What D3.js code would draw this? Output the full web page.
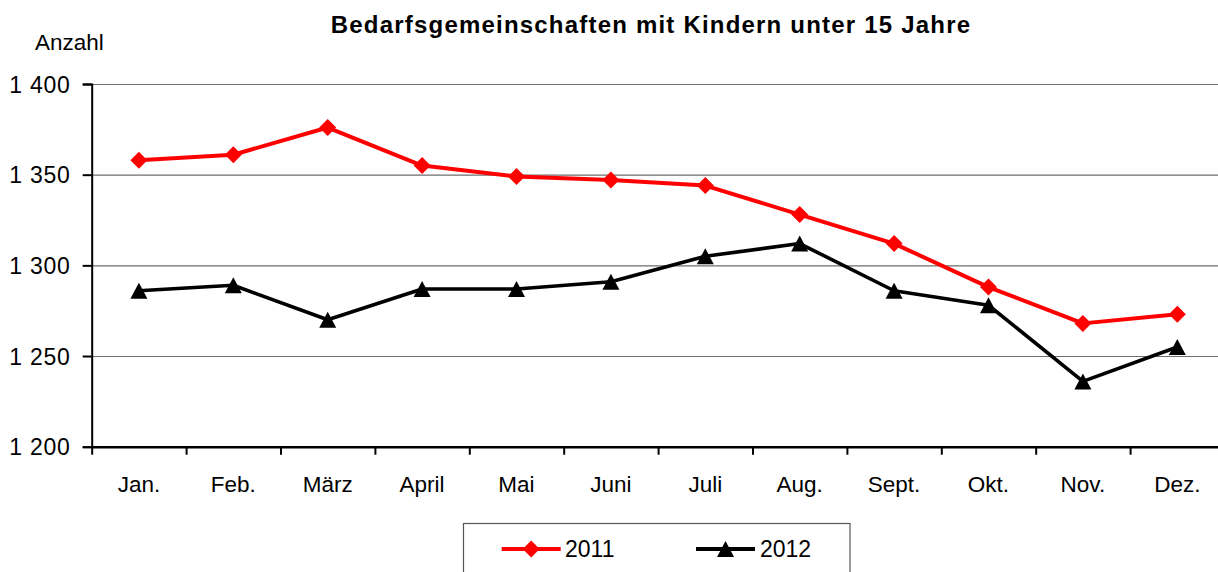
<!DOCTYPE html>
<html><head><meta charset="utf-8">
<script src="https://cdn.jsdelivr.net/npm/d3@7"></script>
<style>body{margin:0;background:#fff}svg{display:block;font-family:"Liberation Sans",Arial,sans-serif}</style>
</head><body><svg id="c" width="1218" height="572"></svg>
<script>
const months = ["Jan.","Feb.","März","April","Mai","Juni","Juli","Aug.","Sept.","Okt.","Nov.","Dez."];
const values2011 = [1358,1361,1376,1355,1349,1347,1344,1328,1312,1288,1268,1273];
const values2012 = [1286,1289,1270,1287,1287,1291,1305,1312,1286,1278,1236,1255];
const yTicks = [1200,1250,1300,1350,1400];
const yTickLabels = ["1 200","1 250","1 300","1 350","1 400"];
const seriesNames = ["2011","2012"];
const title = "Bedarfsgemeinschaften mit Kindern unter 15 Jahre";
const yTitle = "Anzahl";

const svg = d3.select("#c");
const L = 91.7, R = 1224.5, T = 84, B = 446.7;
const x = d3.scaleBand().domain(months).range([L, R]);
const y = d3.scaleLinear().domain([1200,1400]).range([B, T]);
const cx = m => x(m) + x.bandwidth()/2;

// title
svg.append("text").attr("x",651).attr("y",33).attr("text-anchor","middle")
  .attr("font-size",24).attr("font-weight","bold").attr("letter-spacing","1.2px").text(title);
svg.append("text").attr("x",35).attr("y",50).attr("font-size",22.5).text(yTitle);

// gridlines
const grid = d3.axisLeft(y).tickValues(yTicks.slice(1)).tickSize(-(R-L)).tickFormat("");
svg.append("g").attr("transform",`translate(${L},0)`).call(grid)
  .call(g=>g.select(".domain").remove())
  .call(g=>g.selectAll("line").attr("stroke","#6e6e6e").attr("stroke-width",1.2));

// y axis
const yAxis = d3.axisLeft(y).tickValues(yTicks).tickSize(9).tickPadding(12)
  .tickFormat((d,i)=>yTickLabels[i]);
svg.append("g").attr("transform",`translate(${L},0)`).call(yAxis)
  .call(g=>g.select(".domain").attr("stroke","#000").attr("stroke-width",2))
  .call(g=>g.selectAll("line").attr("stroke","#000").attr("stroke-width",2))
  .call(g=>g.selectAll("text").attr("font-size",23).attr("fill","#000").attr("letter-spacing","0.8px").attr("font-family","Liberation Sans, Arial").attr("dy","0.36em"));

// x axis with ticks at band boundaries
const xb = d3.scaleLinear().domain([0,12]).range([L,R]);
svg.append("g").attr("transform",`translate(0,${B})`)
  .call(d3.axisBottom(xb).tickValues(d3.range(0,13)).tickSize(8).tickFormat("").tickSizeOuter(0))
  .call(g=>g.select(".domain").attr("stroke","#000").attr("stroke-width",2.5))
  .call(g=>g.selectAll("line").attr("stroke","#000").attr("stroke-width",2));
svg.append("g").selectAll("text").data(months).join("text")
  .attr("x",d=>cx(d)).attr("y",491.5).attr("text-anchor","middle").attr("font-size",22.5).text(d=>d);

// lines
const line = d3.line().x((d,i)=>cx(months[i])).y(d=>y(d));
svg.append("path").datum(values2011).attr("d",line).attr("fill","none").attr("stroke","#ff0000").attr("stroke-width",4).attr("stroke-linejoin","round");
svg.append("path").datum(values2012).attr("d",line).attr("fill","none").attr("stroke","#000").attr("stroke-width",3.6).attr("stroke-linejoin","round");

const diamond = s => `M0,${-s}L${s},0L0,${s}L${-s},0Z`;
const tri = (w,h) => `M0,${-h/2}L${w/2},${h/2}L${-w/2},${h/2}Z`;
svg.append("g").selectAll("path").data(values2011).join("path")
  .attr("transform",(d,i)=>`translate(${cx(months[i])},${y(d)})`).attr("d",diamond(8.5)).attr("fill","#ff0000");
svg.append("g").selectAll("path").data(values2012).join("path")
  .attr("transform",(d,i)=>`translate(${cx(months[i])},${y(d)})`).attr("d",tri(17,16)).attr("fill","#000");

// legend
const lg = svg.append("g");
lg.append("rect").attr("x",463.5).attr("y",523.5).attr("width",386.5).attr("height",60).attr("fill","#fff").attr("stroke","#555").attr("stroke-width",1.2);
const items = [{n:seriesNames[0],c:"#ff0000",x0:501.7,m:diamond(8.5),tx:565},{n:seriesNames[1],c:"#000",x0:696,m:tri(17,16),tx:760}];
items.forEach(it=>{
  lg.append("line").attr("x1",it.x0).attr("x2",it.x0+59).attr("y1",549).attr("y2",549).attr("stroke",it.c).attr("stroke-width",4);
  lg.append("path").attr("transform",`translate(${it.x0+29.5},549)`).attr("d",it.m).attr("fill",it.c);
  lg.append("text").attr("x",it.tx).attr("y",557).attr("font-size",23).text(it.n);
});
</script></body></html>
